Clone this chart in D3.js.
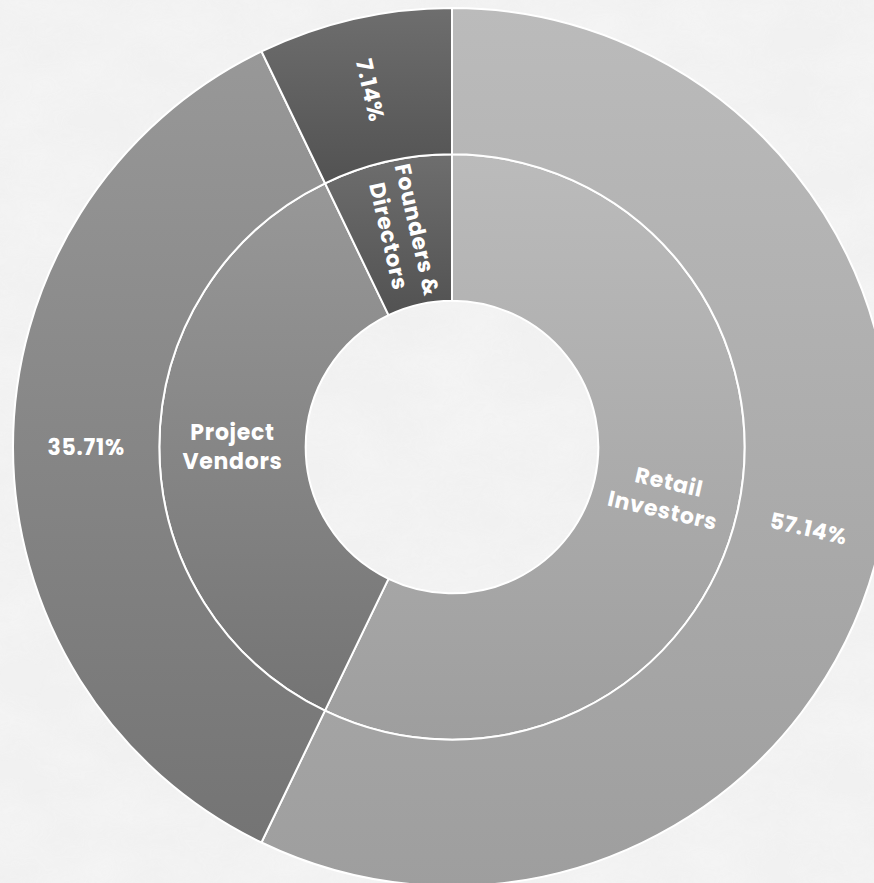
<!DOCTYPE html>
<meta charset="utf-8">

<!-- Load d3.js -->
<script src="https://cdnjs.cloudflare.com/ajax/libs/d3/7.8.5/d3.min.js"></script>

<style>
  html, body { margin: 0; padding: 0; background: #efefef; overflow: hidden; }
</style>

<!-- Create a div where the graph will take place -->
<div id="my_dataviz"></div>

<script>

// inner ring: who holds the tokens
var categories = ["Retail\nInvestors", "Project\nVendors", "Founders &\nDirectors"];
var shares = [57.14, 35.71, 7.14];
// outer ring: the same slices, labelled by percent
var shareLabels = ["57.14%", "35.71%", "7.14%"];

// top / bottom gradient colour for each slice
var colorTop = ["#bbbbbb", "#989898", "#6e6e6e"];
var colorBottom = ["#9e9e9e", "#747474", "#525252"];

// set the dimensions of the graph
var width = 874,
    height = 883,
    cx = 452,
    cy = 447,
    outerR = 439;

var svg = d3.select("#my_dataviz")
  .append("svg")
    .attr("width", width)
    .attr("height", height);

var defs = svg.append("defs");

// marble-ish background
var noise = defs.append("filter")
    .attr("id", "marble")
    .attr("x", 0).attr("y", 0).attr("width", "100%").attr("height", "100%");
noise.append("feTurbulence")
    .attr("type", "fractalNoise")
    .attr("baseFrequency", "0.012 0.02")
    .attr("numOctaves", 4)
    .attr("seed", 7);
noise.append("feColorMatrix")
    .attr("type", "matrix")
    .attr("values", "0 0 0 0 0.92  0 0 0 0 0.92  0 0 0 0 0.92  1.2 0 0 0 -0.35");

svg.append("rect")
    .attr("width", width)
    .attr("height", height)
    .attr("fill", "#f1f1f1");
svg.append("rect")
    .attr("width", width)
    .attr("height", height)
    .attr("filter", "url(#marble)")
    .attr("opacity", 0.9);

// one vertical gradient per slice (bounding box of each path)
shares.forEach(function(d, i) {
  var g = defs.append("linearGradient")
      .attr("id", "grad" + i)
      .attr("x1", 0).attr("y1", 0)
      .attr("x2", 0).attr("y2", 1);
  g.append("stop").attr("offset", "0%").attr("stop-color", colorTop[i]);
  g.append("stop").attr("offset", "100%").attr("stop-color", colorBottom[i]);
});

// radius scale: ring 0 = hole, 1 = inner ring, 2 = outer ring
var r = d3.scaleLinear().domain([0, 3]).range([0, outerR]);

var pie = d3.pie()
    .sort(null)
    .value(function(d) { return d; })
    .startAngle(0)
    .endAngle(2 * Math.PI);

var arcs = pie(shares);

var rings = [
  { inner: r(1), outer: r(2), labels: categories },
  { inner: r(2), outer: r(3), labels: shareLabels }
];

var chart = svg.append("g")
    .attr("transform", "translate(" + cx + "," + cy + ")");

rings.forEach(function(ring) {
  var arc = d3.arc()
      .innerRadius(ring.inner)
      .outerRadius(ring.outer);

  chart.append("g")
    .selectAll("path")
    .data(arcs)
    .enter()
    .append("path")
      .attr("d", arc)
      .attr("fill", function(d, i) { return "url(#grad" + i + ")"; })
      .attr("stroke", "#ffffff")
      .attr("stroke-width", 2)
      .attr("stroke-linejoin", "round");
});

// labels, rotated along the radius
var lineHeight = 29;
rings.forEach(function(ring) {
  var midR = (ring.inner + ring.outer) / 2;

  var labels = chart.append("g")
    .selectAll("text")
    .data(arcs)
    .enter()
    .append("text")
      .attr("transform", function(d) {
        var a = (d.startAngle + d.endAngle) / 2;
        var x = midR * Math.sin(a);
        var y = -midR * Math.cos(a);
        var deg = a * 180 / Math.PI - 90;
        if (deg > 90 && deg < 270) deg -= 180;
        return "translate(" + x + "," + y + ") rotate(" + deg + ")";
      })
      .attr("text-anchor", "middle")
      .attr("dominant-baseline", "central")
      .style("font-family", "Poppins, Inter, 'Open Sans', sans-serif")
      .style("font-weight", 700)
      .style("font-size", "22px")
      .style("letter-spacing", "0.7px")
      .attr("fill", "#ffffff");

  labels.each(function(d, i) {
    var lines = ring.labels[i].split("\n");
    var t = d3.select(this);
    lines.forEach(function(line, k) {
      t.append("tspan")
        .attr("x", 0)
        .attr("y", (k - (lines.length - 1) / 2) * lineHeight)
        .text(line);
    });
  });
});

</script>
